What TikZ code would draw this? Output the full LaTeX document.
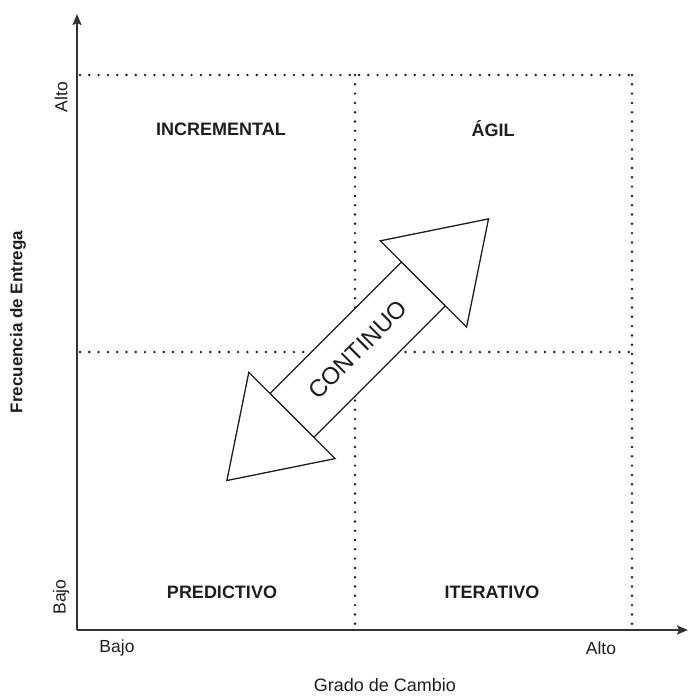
\documentclass[tikz,border=0pt]{standalone}
\usepackage{fontspec}
\setmainfont{Liberation Sans}
\usetikzlibrary{arrows.meta}
\definecolor{ink}{HTML}{1E1E1E}
\definecolor{axisgrey}{HTML}{333333}
\tikzset{
  axisline/.style={draw=axisgrey, line width=2pt, -{Stealth[length=11pt,width=9pt,inset=2pt]}},
  dotline/.style={draw=ink, line width=2.7pt, line cap=round, dash pattern=on 0pt off 9.3pt},
  quadlabel/.style={font=\fontsize{18}{21}\selectfont\bfseries, text=ink},
  ticklabel/.style={font=\fontsize{17.5}{20}\selectfont, text=ink},
  axistitle/.style={font=\fontsize{18}{21}\selectfont, text=ink},
  flowarrow/.style={draw=ink, line width=1.3pt, line join=miter, fill=white},
}
\begin{document}
\begin{tikzpicture}[x=1pt, y=1pt]
  \useasboundingbox (0,0) rectangle (688,-697);
  % axes
  \coordinate (O) at (77,-630);
  \coordinate (ytop) at (77,-14);
  \coordinate (xend) at (688,-630);
  % quadrant grid corners
  \coordinate (tl) at (80,-75);
  \coordinate (tm) at (355,-75);
  \coordinate (tr) at (632,-75);
  \coordinate (ml) at (80,-352);
  \coordinate (mr) at (632,-352);
  \coordinate (bm) at (355,-630);
  \coordinate (br) at (632,-630);
  \draw[dotline] (tl) -- (tr);
  \draw[dotline] (ml) -- (mr);
  \draw[dotline] (tm) -- (bm);
  \draw[dotline] (tr) -- (br);
  \draw[axisline] (O) -- (ytop);
  \draw[axisline] (O) -- (xend);
  % quadrant names
  \node[quadlabel] (inc) at (221,-129) {INCREMENTAL};
  \node[quadlabel] (agil) at (493,-129) {ÁGIL};
  \node[quadlabel] (pred) at (222,-592) {PREDICTIVO};
  \node[quadlabel] (iter) at (492,-592) {ITERATIVO};
  % axis scale labels
  \node[ticklabel] (xlow) at (117,-648) {Bajo};
  \node[ticklabel] (xhigh) at (601,-648) {Alto};
  \node[ticklabel, rotate=90] (ylow) at (61,-597) {Bajo};
  \node[ticklabel, rotate=90] (yhigh) at (61,-97) {Alto};
  % axis titles
  \node[axistitle] (xtitle) at (385,-685) {Grado de Cambio};
  \node[axistitle, font=\fontsize{17}{20}\selectfont\bfseries, rotate=90] (ytitle) at (18,-322) {Frecuencia de Entrega};
  % two-headed block arrow: a bar with a triangular head at each end
  \begin{scope}[shift={(357.7,-349.7)}, rotate=45]
    \path[flowarrow] (-93,-31) rectangle (93,31);
    \path[flowarrow] (185,0) -- (93,61) -- (93,-61) -- cycle;
    \path[flowarrow] (-185,0) -- (-93,61) -- (-93,-61) -- cycle;
    \node[font=\fontsize{24}{28}\selectfont, text=ink, rotate=45] (cont) at (0,0) {CONTINUO};
  \end{scope}
\end{tikzpicture}
\end{document}
